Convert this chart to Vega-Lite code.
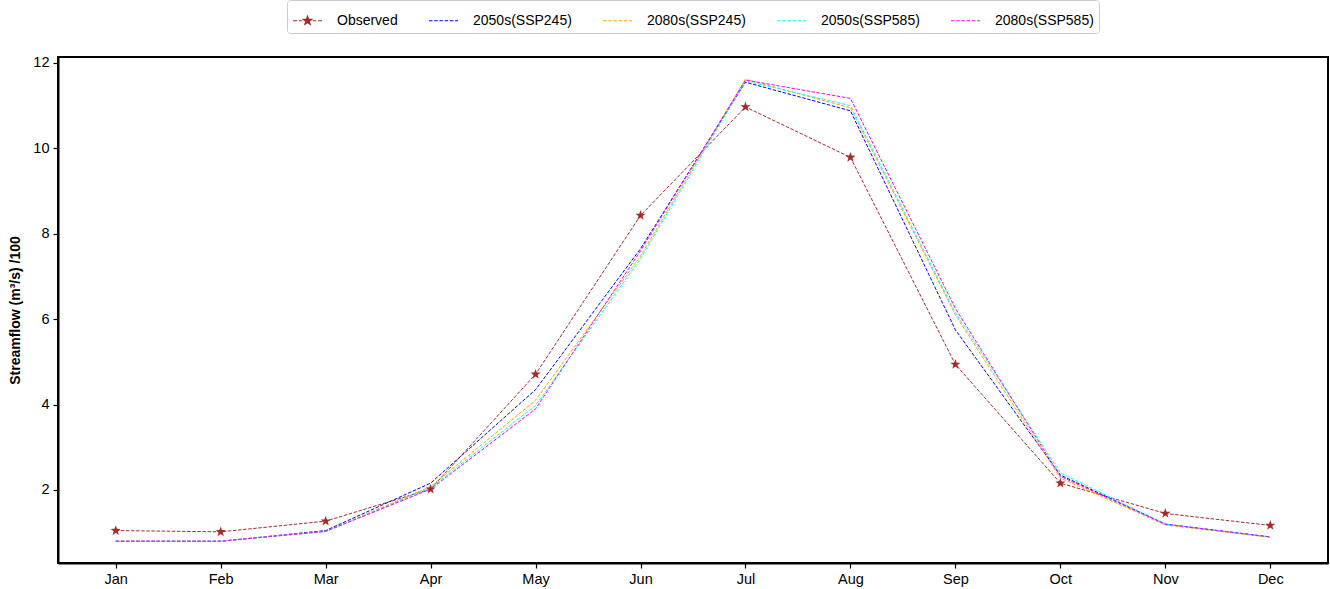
{
  "$schema": "https://vega.github.io/schema/vega-lite/v6.json",
  "width": 1270,
  "height": 506,
  "autosize": {"type": "none"},
  "padding": {"left": 58, "top": 57, "right": 2, "bottom": 26},
  "background": "white",
  "config": {
    "font": "Liberation Sans",
    "view": {"stroke": "black", "strokeWidth": 2},
    "axis": {"grid": false, "domainColor": "black", "domainWidth": 2, "tickColor": "black", "tickWidth": 1.2, "tickSize": 5, "labelFontSize": 14.5, "labelColor": "black", "labelFont": "Liberation Sans", "titleFont": "Liberation Sans", "titleColor": "black"},
    "legend": {"orient": "none", "direction": "horizontal", "columns": 5, "legendX": 229, "legendY": -57,
      "labelFontSize": 14, "labelColor": "black", "labelFont": "Liberation Sans", "labelOffset": 14, "columnPadding": 28,
      "symbolSize": 841, "symbolStrokeWidth": 1.2, "symbolOpacity": 1, "symbolFillColor": "#a52a2a", "padding": 5, "fillColor": "white", "strokeColor": "#cccccc", "cornerRadius": 3}
  },
  "data": {"values": [
    {"month": "Jan", "series": "Observed", "value": 1.05},
    {"month": "Feb", "series": "Observed", "value": 1.02},
    {"month": "Mar", "series": "Observed", "value": 1.27},
    {"month": "Apr", "series": "Observed", "value": 2.02},
    {"month": "May", "series": "Observed", "value": 4.71},
    {"month": "Jun", "series": "Observed", "value": 8.43},
    {"month": "Jul", "series": "Observed", "value": 10.97},
    {"month": "Aug", "series": "Observed", "value": 9.79},
    {"month": "Sep", "series": "Observed", "value": 4.94},
    {"month": "Oct", "series": "Observed", "value": 2.16},
    {"month": "Nov", "series": "Observed", "value": 1.45},
    {"month": "Dec", "series": "Observed", "value": 1.17},
    {"month": "Jan", "series": "2050s(SSP245)", "value": 0.80},
    {"month": "Feb", "series": "2050s(SSP245)", "value": 0.80},
    {"month": "Mar", "series": "2050s(SSP245)", "value": 1.05},
    {"month": "Apr", "series": "2050s(SSP245)", "value": 2.16},
    {"month": "May", "series": "2050s(SSP245)", "value": 4.35},
    {"month": "Jun", "series": "2050s(SSP245)", "value": 7.65},
    {"month": "Jul", "series": "2050s(SSP245)", "value": 11.55},
    {"month": "Aug", "series": "2050s(SSP245)", "value": 10.88},
    {"month": "Sep", "series": "2050s(SSP245)", "value": 5.75},
    {"month": "Oct", "series": "2050s(SSP245)", "value": 2.35},
    {"month": "Nov", "series": "2050s(SSP245)", "value": 1.20},
    {"month": "Dec", "series": "2050s(SSP245)", "value": 0.90},
    {"month": "Jan", "series": "2080s(SSP245)", "value": 0.80},
    {"month": "Feb", "series": "2080s(SSP245)", "value": 0.80},
    {"month": "Mar", "series": "2080s(SSP245)", "value": 1.03},
    {"month": "Apr", "series": "2080s(SSP245)", "value": 2.08},
    {"month": "May", "series": "2080s(SSP245)", "value": 4.10},
    {"month": "Jun", "series": "2080s(SSP245)", "value": 7.48},
    {"month": "Jul", "series": "2080s(SSP245)", "value": 11.62},
    {"month": "Aug", "series": "2080s(SSP245)", "value": 10.95},
    {"month": "Sep", "series": "2080s(SSP245)", "value": 6.10},
    {"month": "Oct", "series": "2080s(SSP245)", "value": 2.28},
    {"month": "Nov", "series": "2080s(SSP245)", "value": 1.18},
    {"month": "Dec", "series": "2080s(SSP245)", "value": 0.89},
    {"month": "Jan", "series": "2050s(SSP585)", "value": 0.80},
    {"month": "Feb", "series": "2050s(SSP585)", "value": 0.80},
    {"month": "Mar", "series": "2050s(SSP585)", "value": 1.03},
    {"month": "Apr", "series": "2050s(SSP585)", "value": 2.05},
    {"month": "May", "series": "2050s(SSP585)", "value": 3.98},
    {"month": "Jun", "series": "2050s(SSP585)", "value": 7.42},
    {"month": "Jul", "series": "2050s(SSP585)", "value": 11.58},
    {"month": "Aug", "series": "2050s(SSP585)", "value": 11.00},
    {"month": "Sep", "series": "2050s(SSP585)", "value": 6.15},
    {"month": "Oct", "series": "2050s(SSP585)", "value": 2.40},
    {"month": "Nov", "series": "2050s(SSP585)", "value": 1.20},
    {"month": "Dec", "series": "2050s(SSP585)", "value": 0.90},
    {"month": "Jan", "series": "2080s(SSP585)", "value": 0.80},
    {"month": "Feb", "series": "2080s(SSP585)", "value": 0.80},
    {"month": "Mar", "series": "2080s(SSP585)", "value": 1.03},
    {"month": "Apr", "series": "2080s(SSP585)", "value": 2.02},
    {"month": "May", "series": "2080s(SSP585)", "value": 3.90},
    {"month": "Jun", "series": "2080s(SSP585)", "value": 7.60},
    {"month": "Jul", "series": "2080s(SSP585)", "value": 11.60},
    {"month": "Aug", "series": "2080s(SSP585)", "value": 11.17},
    {"month": "Sep", "series": "2080s(SSP585)", "value": 6.25},
    {"month": "Oct", "series": "2080s(SSP585)", "value": 2.32},
    {"month": "Nov", "series": "2080s(SSP585)", "value": 1.20},
    {"month": "Dec", "series": "2080s(SSP585)", "value": 0.90}
  ]},
  "encoding": {
    "x": {"field": "month", "type": "ordinal",
      "scale": {"type": "point", "padding": 0.55, "domain": ["Jan","Feb","Mar","Apr","May","Jun","Jul","Aug","Sep","Oct","Nov","Dec"]},
      "axis": {"title": null, "labelAngle": 0, "labelPadding": 4}},
    "y": {"field": "value", "type": "quantitative",
      "scale": {"domain": [0.29, 12.14], "nice": false, "zero": false},
      "axis": {"values": [2,4,6,8,10,12], "title": "Streamflow (m³/s) /100", "titleFontSize": 14, "titleFontWeight": "bold", "titlePadding": 10, "labelPadding": 4}}
  },
  "layer": [
    {
      "mark": {"type": "line", "strokeWidth": 1, "strokeDash": [3.5, 1.6]},
      "encoding": {
        "stroke": {"field": "series", "type": "nominal",
          "scale": {"domain": ["2050s(SSP245)","2080s(SSP245)","2050s(SSP585)","2080s(SSP585)","Observed"], "range": ["#0000ff","#ffa500","#00ffff","#ff00ff","#a52a2a"]},
          "legend": null},
        "detail": {"field": "series"}
      }
    },
    {
      "transform": [{"filter": "datum.series == 'Observed'"}],
      "mark": {"type": "point", "filled": true, "color": "#a52a2a", "opacity": 1, "size": 115,
        "shape": "M0,-1L0.235,-0.324L0.951,-0.309L0.38,0.124L0.588,0.809L0,0.4L-0.588,0.809L-0.38,0.124L-0.951,-0.309L-0.235,-0.324Z"}
    },
    {
      "transform": [{"filter": "datum.series == 'none'"}],
      "mark": {"type": "point", "filled": false, "fill": "#a52a2a", "strokeWidth": 1.2, "size": 841, "opacity": 1},
      "encoding": {
        "color": {"field": "series", "type": "nominal",
          "scale": {"domain": ["Observed","2050s(SSP245)","2080s(SSP245)","2050s(SSP585)","2080s(SSP585)"], "range": ["#a52a2a","#0000ff","#ffa500","#00ffff","#ff00ff"]},
          "legend": {"title": null}},
        "shape": {"field": "series", "type": "nominal",
          "scale": {"domain": ["Observed","2050s(SSP245)","2080s(SSP245)","2050s(SSP585)","2080s(SSP585)"],
            "range": [
              "M-1,0H-0.72M-0.6,0H-0.36M0.36,0H0.6M0.72,0H1M0,-0.31L0.073,-0.1L0.295,-0.096L0.118,0.038L0.182,0.251L0,0.124L-0.182,0.251L-0.118,0.038L-0.295,-0.096L-0.073,-0.1Z",
              "M-1,0H-0.76M-0.64,0H-0.4M-0.28,0H-0.04M0.08,0H0.32M0.44,0H0.68M0.8,0H1",
              "M-1,0H-0.76M-0.64,0H-0.4M-0.28,0H-0.04M0.08,0H0.32M0.44,0H0.68M0.8,0H1",
              "M-1,0H-0.76M-0.64,0H-0.4M-0.28,0H-0.04M0.08,0H0.32M0.44,0H0.68M0.8,0H1",
              "M-1,0H-0.76M-0.64,0H-0.4M-0.28,0H-0.04M0.08,0H0.32M0.44,0H0.68M0.8,0H1"
            ]},
          "legend": {"title": null}}
      }
    }
  ]
}
